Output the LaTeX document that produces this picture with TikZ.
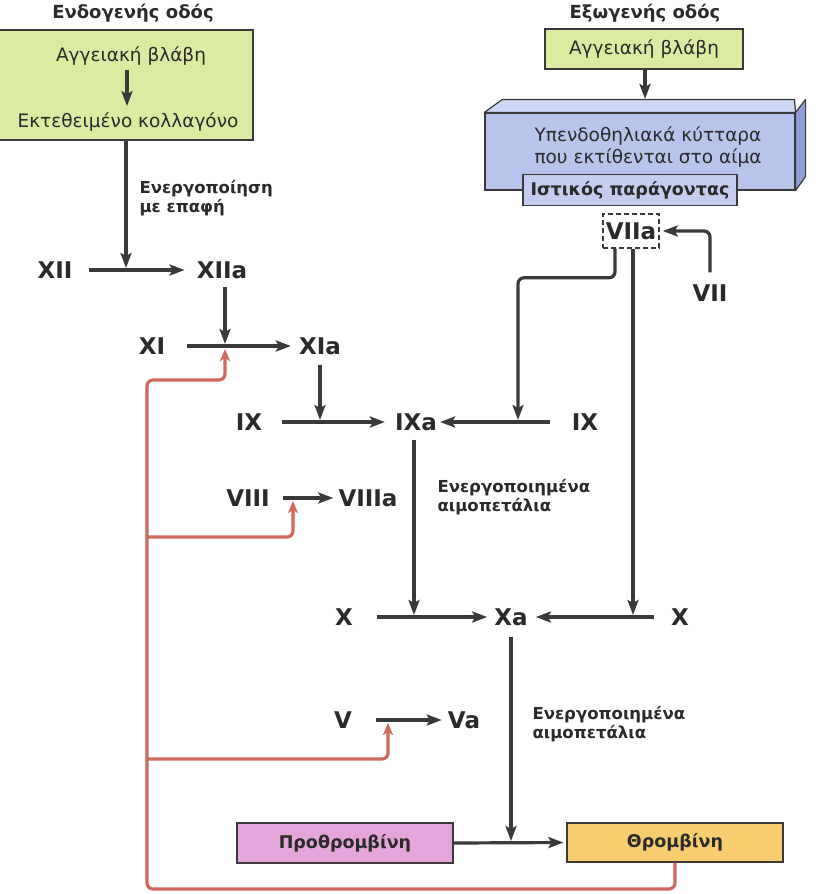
\documentclass[tikz,border=0pt]{standalone}
\usepackage{fontspec}
\setmainfont{DejaVu Sans}
\usetikzlibrary{arrows.meta}
\definecolor{dk}{HTML}{3A3A3A}
\definecolor{tx}{HTML}{2A2A2A}
\definecolor{grn}{HTML}{DCEBA2}
\definecolor{bluF}{HTML}{B8C4EC}
\definecolor{bluT}{HTML}{CDD6F3}
\definecolor{bluS}{HTML}{8F9DD8}
\definecolor{bluI}{HTML}{C4CDF0}
\definecolor{pnk}{HTML}{E4A6DA}
\definecolor{org}{HTML}{F8CD70}
\definecolor{rd}{HTML}{D0685E}
\begin{document}
\begin{tikzpicture}[x=1pt,y=-1pt,
  every node/.style={text=tx},
  title/.style={font=\fontsize{18}{21}\selectfont\bfseries},
  txt/.style={font=\fontsize{18.5}{22}\selectfont},
  lbl/.style={font=\fontsize{16.5}{19.5}\selectfont\bfseries, align=left, anchor=west},
  num/.style={font=\fontsize{23}{26}\selectfont\bfseries, inner sep=0pt, text height=17pt, text depth=0pt},
  gbox/.style={draw=dk, line width=1.2pt, fill=grn},
  pbox/.style={draw=dk, line width=1.2pt, font=\fontsize{17.5}{20}\selectfont\bfseries},
  arr/.style={draw=dk, line width=3.2pt, -{Stealth[length=15pt,width=11pt,inset=3pt]}},
  rarr/.style={draw=rd, line width=3.2pt, rounded corners=6pt, -{Stealth[length=12pt,width=10pt,inset=3pt]}},
]
\useasboundingbox (0,0) rectangle (819,894);

% titles
\node[title] (tEndo) at (133,13) {Ενδογενής οδός};
\node[title] (tExo) at (645,13) {Εξωγενής οδός};

% left green box
\node[gbox, minimum width=256pt, minimum height=110pt] (boxL) at (125,85) {};
\node[txt] (avL) at (131,56) {Αγγειακή βλάβη};
\node[txt] (kol) at (128,122) {Εκτεθειμένο κολλαγόνο};
\draw[arr, shorten <=1pt, shorten >=3pt] (avL.south -| 127,0) -- (kol.north -| 127,0);

% right green box
\node[gbox, txt, minimum width=198pt, minimum height=40pt] (boxR) at (644,49) {Αγγειακή βλάβη};
\coordinate (tfTop) at (645,99);
\draw[arr] (boxR.south -| tfTop) -- (tfTop);

% blue 3D box
\node[draw=dk, line width=1.2pt, fill=bluF, minimum width=310pt, minimum height=77pt, inner sep=0pt] (blueF) at (640,151.5) {};
\filldraw[draw=dk, line width=1.2pt, fill=bluT, line join=round] (blueF.north west) -- ++(18,-13) -- ++(292,0) -- (blueF.north east) -- cycle;
\filldraw[draw=dk, line width=1.2pt, fill=bluS, line join=round] (blueF.north east) -- ++(10,-13) -- ++(0,77) -- (blueF.south east) -- cycle;
\node[txt, align=center] (sub) at (648,147) {Υπενδοθηλιακά κύτταρα\\που εκτίθενται στο αίμα};
\node[pbox, fill=bluI, minimum width=214pt, minimum height=31pt] (tf) at (630,190) {Ιστικός παράγοντας};

% VIIa / VII
\node[num, draw=dk, line width=1.5pt, dash pattern=on 5pt off 3pt, minimum width=56pt, minimum height=34pt] (VIIa) at (631,231) {VIIa};
\node[num] (VII) at (710,293) {VII};
\draw[arr, rounded corners=6pt, shorten <=12pt, shorten >=3pt] (VII.north) |- (VIIa.east);

% numerals
\node[num] (XII) at (55,270) {XII};
\node[num] (XIIa) at (222,270) {XIIa};
\node[num] (XI) at (152,346) {XI};
\node[num] (XIa) at (320,346) {XIa};
\node[num] (IX) at (249,422) {IX};
\node[num] (IXa) at (416,422) {IXa};
\node[num] (IXr) at (585,422) {IX};
\node[num] (VIII) at (248,498) {VIII};
\node[num] (VIIIa) at (368,498) {VIIIa};
\node[num] (X) at (344,617) {X};
\node[num] (Xa) at (511,617) {Xa};
\node[num] (Xr) at (680,617) {X};
\node[num] (V) at (343,720) {V};
\node[num] (Va) at (464,720) {Va};

% labels
\node[lbl] (act1) at (136,198) {Ενεργοποίηση\\με επαφή};
\node[lbl] (plt1) at (434,497) {Ενεργοποιημένα\\αιμοπετάλια};
\node[lbl] (plt2) at (529,724) {Ενεργοποιημένα\\αιμοπετάλια};

% bottom boxes
\node[pbox, fill=pnk, minimum width=216pt, minimum height=40pt] (pro) at (345,843) {Προθρομβίνη};
\node[pbox, fill=org, minimum width=216pt, minimum height=39pt] (th) at (675,842.5) {Θρομβίνη};

% horizontal reaction arrows
\draw[arr] ([xshift=16pt]XII.east) -- ([xshift=-12pt]XIIa.west);
\draw[arr] ([xshift=22pt]XI.east) -- ([xshift=-8pt]XIa.west);
\draw[arr] ([xshift=20pt]IX.east) -- ([xshift=-10pt]IXa.west);
\draw[arr] ([xshift=-22pt]IXr.west) -- ([xshift=3pt]IXa.east);
\draw[arr] ([xshift=13pt]VIII.east) -- ([xshift=-5pt]VIIIa.west);
\draw[arr] ([xshift=24pt]X.east) -- ([xshift=-7pt]Xa.west);
\draw[arr] ([xshift=-17pt]Xr.west) -- ([xshift=8pt]Xa.east);
\draw[arr] ([xshift=24pt]V.east) -- ([xshift=-6pt]Va.west);
\draw[arr, shorten >=3pt] (pro.east) -- (th.west);

% vertical arrows onto reactions
\coordinate (j1) at (126,268);
\coordinate (j2) at (225,344);
\coordinate (j3) at (320,420);
\coordinate (j4) at (414,615);
\coordinate (j5) at (511,841);
\coordinate (jIXr) at (518,420);
\coordinate (jXr) at (633,615);
\draw[arr] (boxL.south -| j1) -- (j1);
\draw[arr, shorten <=8pt] (XIIa.south -| j2) -- (j2);
\draw[arr, shorten <=10pt] (XIa.south -| j3) -- (j3);
\draw[arr, shorten <=9pt] (IXa.south -| j4) -- (j4);
\draw[arr, shorten <=11pt] (Xa.south -| j5) -- (j5);
\draw[arr, rounded corners=6pt] ([xshift=-16pt]VIIa.south) -- ++(0,29) -| (jIXr);
\draw[arr] (VIIa.south -| jXr) -- (jXr);

% red feedback
\coordinate (rBL) at (147,889);
\coordinate (rTL) at (147,380);
\coordinate (jr1) at (225,349);
\coordinate (rb2) at (147,537);
\coordinate (jr2) at (293,501);
\coordinate (rb3) at (147,759);
\coordinate (jr3) at (388,723);
\draw[rarr] (th.south) |- (rBL) -- (rTL) -| (jr1);
\draw[rarr] (rb2) -| (jr2);
\draw[rarr] (rb3) -| (jr3);
\end{tikzpicture}
\end{document}
